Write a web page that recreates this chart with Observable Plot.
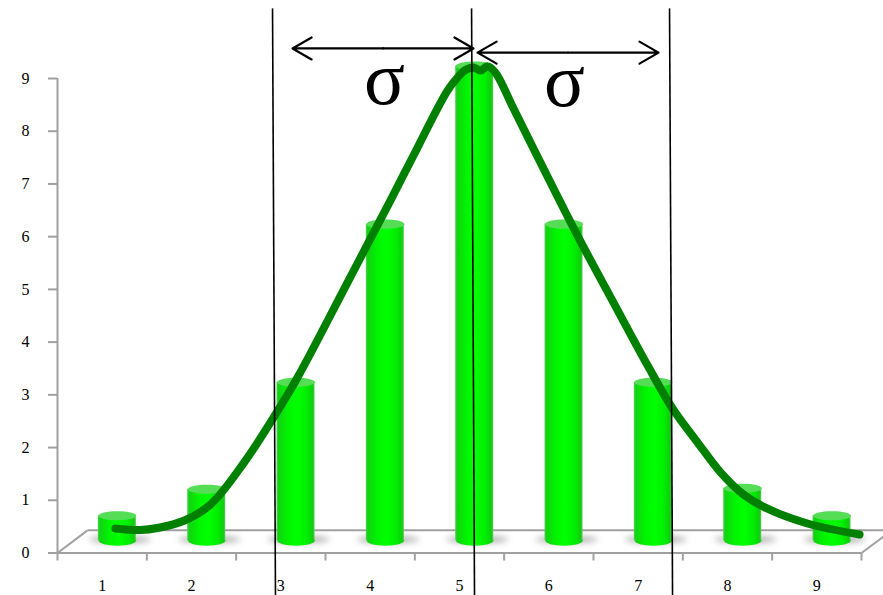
<!DOCTYPE html>
<html>
<head>
<meta charset="utf-8">
<script src="https://cdn.jsdelivr.net/npm/d3@7"></script>
<script src="https://cdn.jsdelivr.net/npm/@observablehq/plot@0.6"></script>
<style>html,body{margin:0;padding:0;background:#fff}svg{display:block}</style>
</head>
<body>
<div id="chart"></div>
<script>
const categories = [1, 2, 3, 4, 5, 6, 7, 8, 9];
const barValues = [0.47, 0.97, 3, 6, 9, 6, 3, 0.99, 0.47];
const curveX = [1.149,1.429,1.619,1.922,2.213,2.582,2.918,3.187,3.746,4.228,4.485,4.866,4.989,5.067,5.157,5.235,5.314,5.403,5.605,5.985,6.355,6.724,7.105,7.385,7.664,7.922,8.179,8.448,8.896,9.478];
const curveY = [0.465,0.436,0.474,0.616,0.92,1.70,2.57,3.33,5.13,6.69,7.54,8.77,9.04,9.16,9.21,9.15,9.23,9.11,8.43,7.14,5.91,4.75,3.56,2.74,2.10,1.53,1.11,0.84,0.56,0.35];
const yTicks = [0, 1, 2, 3, 4, 5, 6, 7, 8, 9];
const xBoundaries = [0.5, 1.5, 2.5, 3.5, 4.5, 5.5, 6.5, 7.5, 8.5, 9.5];
const sigmaTop = [2.907, 5.135, 7.351];
const sigmaBottom = [2.94, 5.168, 7.385];
const spanStart = [3.131, 5.202];
const spanEnd = [5.157, 7.228];
const spanY = [9.57, 9.49];
const sigmaX = [4.16, 6.175];
const sigmaY = [8.98, 8.94];

const depthX = 0.17, depthY = 0.237, halfBar = 0.2127;
const grey = "#a0a0a0";
const bars = categories.map((c, i) => ({c: c + depthX, v: barValues[i] + depthY}));
const curve = curveX.map((x, i) => ({x, y: curveY[i]}));
const ellipse = k => ({draw(ctx, size) {
  const rx = Math.sqrt(size / Math.PI), ry = rx * k, m = 0.5523;
  ctx.moveTo(-rx, 0);
  ctx.bezierCurveTo(-rx, -ry * m, -rx * m, -ry, 0, -ry);
  ctx.bezierCurveTo(rx * m, -ry, rx, -ry * m, rx, 0);
  ctx.bezierCurveTo(rx, ry * m, rx * m, ry, 0, ry);
  ctx.bezierCurveTo(-rx * m, ry, -rx, ry * m, -rx, 0);
  ctx.closePath();
}});
const defs = () => d3.create("svg:defs").html(`
  <linearGradient id="cyl" x1="0" x2="1" y1="0" y2="0">
    <stop offset="0" stop-color="#58cf58"/><stop offset="0.05" stop-color="#12d212"/>
    <stop offset="0.3" stop-color="#00f500"/><stop offset="0.55" stop-color="#00ff00"/>
    <stop offset="0.8" stop-color="#00ee00"/><stop offset="0.95" stop-color="#10cc10"/>
    <stop offset="1" stop-color="#58c858"/>
  </linearGradient>`).node();

const plot = Plot.plot({
  width: 883, height: 595,
  marginLeft: 57, marginRight: 22, marginTop: 78, marginBottom: 42.5,
  style: {fontFamily: "Liberation Serif", fontSize: "16px", background: "#fff", color: "#000"},
  x: {domain: [0.5, 9.5], label: null},
  y: {domain: [0, 9], label: null},
  marks: [
    defs,
    Plot.link([{x1: 0.836, x2: 9.747, y1: 0.43, y2: 0.43}, {x1: 0.5, x2: 0.836, y1: 0, y2: 0.43}, {x1: 9.5, x2: 9.747, y1: 0, y2: 0.31}],
      {x1: "x1", x2: "x2", y1: "y1", y2: "y2", stroke: grey, strokeWidth: 2}),
    Plot.ruleX([0.5], {y1: 0, y2: 9, stroke: grey, strokeWidth: 2}),
    Plot.ruleY([0], {stroke: grey, strokeWidth: 2}),
    Plot.axisY({ticks: yTicks, tickSize: 9, tickPadding: 19, stroke: grey, strokeWidth: 2, fill: "#000", label: null, tickFormat: d => d}),
    Plot.axisX({ticks: xBoundaries, tickSize: 8, stroke: grey, strokeWidth: 2, label: null, tickFormat: () => ""}),
    Plot.axisX({ticks: categories, tickSize: 0, tickPadding: 27, fill: "#000", label: null, tickFormat: d => d}),
    Plot.dot(bars, {x: d => d.c + 0.03, y: depthY + 0.02, r: 31, symbol: ellipse(0.12), fill: "#999999", fillOpacity: 0.75, stroke: "none", imageFilter: "blur(3px)"}),
    Plot.dot(bars, {x: "c", y: depthY, r: 19, symbol: ellipse(0.27), fill: "url(#cyl)", stroke: "none"}),
    Plot.rect(bars, {x1: d => d.c - halfBar, x2: d => d.c + halfBar, y1: depthY, y2: "v", fill: "url(#cyl)"}),
    Plot.dot(bars, {x: "c", y: "v", r: 19, symbol: ellipse(0.24), fill: "#55dd55", stroke: "none"}),
    Plot.line(curve, {x: "x", y: "y", curve: "catmull-rom", stroke: "#008000", strokeWidth: 8, strokeLinejoin: "round"}),
    Plot.link(sigmaTop.map((x, i) => ({x1: x, x2: sigmaBottom[i]})), {x1: "x1", x2: "x2", y1: 10.33, y2: -0.806, stroke: "#000", strokeWidth: 1.6}),
    Plot.arrow(spanStart.map((s, i) => ({a: (s + spanEnd[i]) / 2, b: s, y: spanY[i]})), {x1: "a", x2: "b", y1: "y", y2: "y", stroke: "#000", strokeWidth: 2.2, headLength: 15, headAngle: 60}),
    Plot.arrow(spanStart.map((s, i) => ({a: (s + spanEnd[i]) / 2, b: spanEnd[i], y: spanY[i]})), {x1: "a", x2: "b", y1: "y", y2: "y", stroke: "#000", strokeWidth: 2.2, headLength: 15, headAngle: 60}),
    Plot.text(sigmaX.map((x, i) => ({x, y: sigmaY[i]})), {x: "x", y: "y", text: () => "σ", fontSize: 76, fontFamily: "Liberation Serif", fill: "#000"})
  ]
});
document.getElementById("chart").appendChild(plot);
</script>
</body>
</html>
